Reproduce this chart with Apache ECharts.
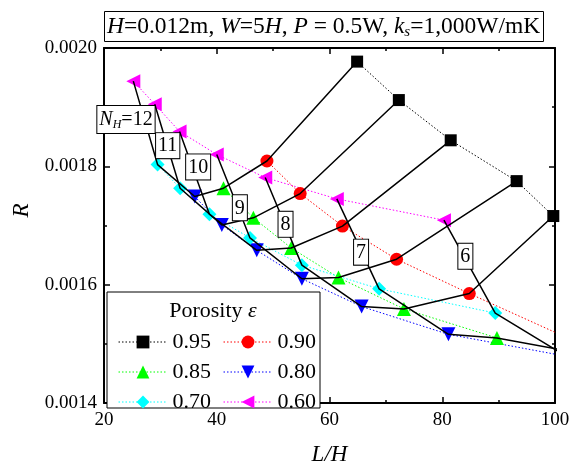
<!DOCTYPE html>
<html>
<head>
<meta charset="utf-8">
<script src="https://cdn.jsdelivr.net/npm/echarts@6/dist/echarts.min.js"></script>
<style>
html, body { margin: 0; padding: 0; background: #fff; }
#chart { width: 577px; height: 471px; }
</style>
</head>
<body>
<div id="chart"></div>
<script>
// N_H of each point, same order in every porosity array below
const nhList = [12, 11, 10, 9, 8, 7, 6];
const porosityNames = ['0.95', '0.90', '0.85', '0.80', '0.70', '0.60'];

// L/H and R per porosity (null = not shown, values past 100 run off the plot)
const lh95 = [64.9, 72.3, 81.5, 93.2, 99.7, null, null];
const r95 = [0.001977, 0.001912, 0.001844, 0.001775, 0.001716, null, null];
const lh90 = [48.9, 54.8, 62.3, 71.9, 84.8, 110.8, null];
const r90 = [0.001809, 0.001754, 0.001699, 0.001643, 0.001585, 0.001473, null];
const lh85 = [41.2, 46.5, 53.2, 61.6, 73.2, 89.7, null];
const r85 = [0.001763, 0.001713, 0.001662, 0.001612, 0.001559, 0.001510, null];
const lh80 = [36.1, 40.9, 47.1, 55.1, 65.7, 81.1, 102.0];
const r80 = [0.001749, 0.001701, 0.001658, 0.001610, 0.001563, 0.001516, 0.001479];
const lh70 = [29.5, 33.5, 38.7, 45.9, 55.1, 68.8, 89.4];
const r70 = [0.001803, 0.001763, 0.001719, 0.001679, 0.001633, 0.001593, 0.001552];
const lh60 = [25.2, 29.0, 33.4, 40.0, 48.6, 61.3, 80.3];
const r60 = [0.001944, 0.001905, 0.001859, 0.001820, 0.001781, 0.001745, 0.001709];

// where the N_H tags sit (data coords)
const nhTagLH = [23.9, 31.3, 36.7, 44.1, 52.2, 65.6, 84.1];
const nhTagR = [0.001879, 0.001835, 0.001799, 0.001730, 0.001702, 0.001655, 0.001648];

const xTicks = [20, 40, 60, 80, 100];
const yTicks = [0.0014, 0.0016, 0.0018, 0.0020];

const serif = '"Liberation Serif", "DejaVu Serif", serif';
const lhSets = [lh95, lh90, lh85, lh80, lh70, lh60];
const rSets = [r95, r90, r85, r80, r70, r60];
const colors = ['#000000', '#ff0000', '#00ff00', '#0000ff', '#00ffff', '#ff00ff'];
const symbols = ['rect', 'circle', 'triangle', 'triangle', 'diamond', 'triangle'];
const rotates = [0, 0, 0, 180, 0, 90];
const sizes = [12, 13, 14, 14, 14, 14];
const dots = [1.5, 2];

function pts(xs, ys) {
  const out = [];
  xs.forEach((x, i) => { if (x != null) out.push([x, ys[i]]); });
  return out;
}

let series = [];

// dotted lines, one per porosity
porosityNames.forEach((name, k) => {
  series.push({
    name: name,
    type: 'line',
    data: pts(lhSets[k], rSets[k]),
    symbol: symbols[k],
    symbolSize: sizes[k],
    symbolRotate: rotates[k],
    itemStyle: { color: colors[k], borderWidth: 0 },
    lineStyle: { color: colors[k], width: 1, type: dots },
    z: 2
  });
});

// solid black lines, one per N_H: 0.60 -> 0.70 -> 0.80 -> 0.85 -> 0.90 -> 0.95
const order = [5, 4, 3, 2, 1, 0];
nhList.forEach((nh, i) => {
  const d = [];
  order.forEach(k => {
    if (lhSets[k][i] != null) d.push([lhSets[k][i], rSets[k][i]]);
  });
  series.push({
    type: 'line',
    data: d,
    symbol: 'none',
    lineStyle: { color: '#000', width: 1.5 },
    z: 3
  });
});

// N_H tags
series.push({
  type: 'scatter',
  data: nhTagLH.map((x, i) => [x, nhTagR[i], nhList[i]]),
  symbolSize: 1,
  itemStyle: { color: 'rgba(0,0,0,0)', opacity: 1 },
  z: 5,
  label: {
    show: true,
    position: 'inside',
    formatter: p => p.dataIndex === 0 ? '{i|N}{s|H}=12' : String(p.value[2]),
    fontFamily: serif,
    fontSize: 20,
    color: '#000',
    textBorderWidth: 0,
    backgroundColor: '#fff',
    borderColor: '#000',
    borderWidth: 1,
    padding: [3, 2, 2, 2],
    rich: {
      i: { fontFamily: serif, fontSize: 20, fontStyle: 'italic', color: '#000', textBorderWidth: 0 },
      s: { fontFamily: serif, fontSize: 12, fontStyle: 'italic', color: '#000', textBorderWidth: 0, verticalAlign: 'bottom', padding: [10, 0, 0, 0] }
    }
  }
});

const legendBase = {
  orient: 'vertical',
  top: 326,
  itemWidth: 49,
  itemHeight: 16,
  itemGap: 8,
  itemStyle: { borderWidth: 0 },
  lineStyle: { width: 1, type: dots },
  textStyle: { fontFamily: serif, fontSize: 22, color: '#000', lineHeight: 20 },
  z: 10
};

const chart = echarts.init(document.getElementById('chart'));
chart.setOption({
  animation: false,
  backgroundColor: '#fff',
  title: {
    text: '{i|H}=0.012m, {i|W}=5{i|H}, {i|P} = 0.5W, {i|k}{s|s}=1,000W/mK',
    left: 104,
    top: 10,
    borderColor: '#000',
    borderWidth: 1,
    padding: [3, 3, 2, 3],
    textStyle: {
      fontFamily: serif,
      fontSize: 23.5,
      fontWeight: 'normal',
      color: '#000',
      rich: {
        i: { fontFamily: serif, fontSize: 23.5, fontStyle: 'italic' },
        s: { fontFamily: serif, fontSize: 15, fontStyle: 'italic', verticalAlign: 'bottom', padding: [12, 0, 0, 0] }
      }
    }
  },
  grid: { left: 104, right: 22, top: 48, bottom: 61 },
  xAxis: [{
    type: 'value',
    min: xTicks[0],
    max: xTicks[xTicks.length - 1],
    interval: 20,
    name: 'L/H',
    nameLocation: 'middle',
    nameGap: 40,
    nameTextStyle: { fontFamily: serif, fontSize: 23, fontStyle: 'italic', color: '#000' },
    axisLine: { lineStyle: { color: '#000', width: 2 } },
    axisTick: { inside: true, length: 6, lineStyle: { color: '#000', width: 1.5 } },
    minorTick: { show: true, splitNumber: 2, length: 3, lineStyle: { color: '#000', width: 1.5 } },
    axisLabel: { fontFamily: serif, fontSize: 19, color: '#000', margin: 8 },
    splitLine: { show: false }
  }, {
    type: 'value',
    position: 'top',
    min: xTicks[0],
    max: xTicks[xTicks.length - 1],
    interval: 20,
    axisLine: { onZero: false, lineStyle: { color: '#000', width: 2 } },
    axisTick: { inside: true, length: 6, lineStyle: { color: '#000', width: 1.5 } },
    minorTick: { show: true, splitNumber: 2, length: 3, lineStyle: { color: '#000', width: 1.5 } },
    axisLabel: { show: false },
    splitLine: { show: false }
  }],
  yAxis: [{
    type: 'value',
    min: yTicks[0],
    max: yTicks[yTicks.length - 1],
    interval: 0.0002,
    name: 'R',
    nameLocation: 'middle',
    nameGap: 66,
    nameTextStyle: { fontFamily: serif, fontSize: 23, fontStyle: 'italic', color: '#000', padding: [0, 0, 0, 30] },
    axisLine: { lineStyle: { color: '#000', width: 2 } },
    axisTick: { inside: true, length: 6, lineStyle: { color: '#000', width: 1.5 } },
    minorTick: { show: true, splitNumber: 2, length: 3, lineStyle: { color: '#000', width: 1.5 } },
    axisLabel: { fontFamily: serif, fontSize: 19, color: '#000', margin: 7, formatter: v => v.toFixed(4) },
    splitLine: { show: false }
  }, {
    type: 'value',
    position: 'right',
    min: yTicks[0],
    max: yTicks[yTicks.length - 1],
    interval: 0.0002,
    axisLine: { show: true, onZero: false, lineStyle: { color: '#000', width: 2 } },
    axisTick: { show: true, inside: true, length: 6, lineStyle: { color: '#000', width: 1.5 } },
    minorTick: { show: true, splitNumber: 2, length: 3, lineStyle: { color: '#000', width: 1.5 } },
    axisLabel: { show: false },
    splitLine: { show: false }
  }],
  legend: [
    Object.assign({}, legendBase, { data: ['0.95', '0.85', '0.70'], left: 113 }),
    Object.assign({}, legendBase, { data: ['0.90', '0.80', '0.60'], left: 218 })
  ],
  graphic: [{
    type: 'rect',
    shape: { x: 107, y: 292, width: 213, height: 116 },
    style: { fill: '#fff', stroke: '#000', lineWidth: 1 },
    z: 8
  }, {
    type: 'text',
    x: 213,
    y: 311,
    style: {
      text: 'Porosity {e|ε}',
      font: '22px ' + serif,
      fill: '#000',
      align: 'center',
      verticalAlign: 'middle',
      rich: { e: { fontFamily: serif, fontSize: 22, fontStyle: 'italic' } }
    },
    z: 9
  }],
  series: series
});
</script>
</body>
</html>
